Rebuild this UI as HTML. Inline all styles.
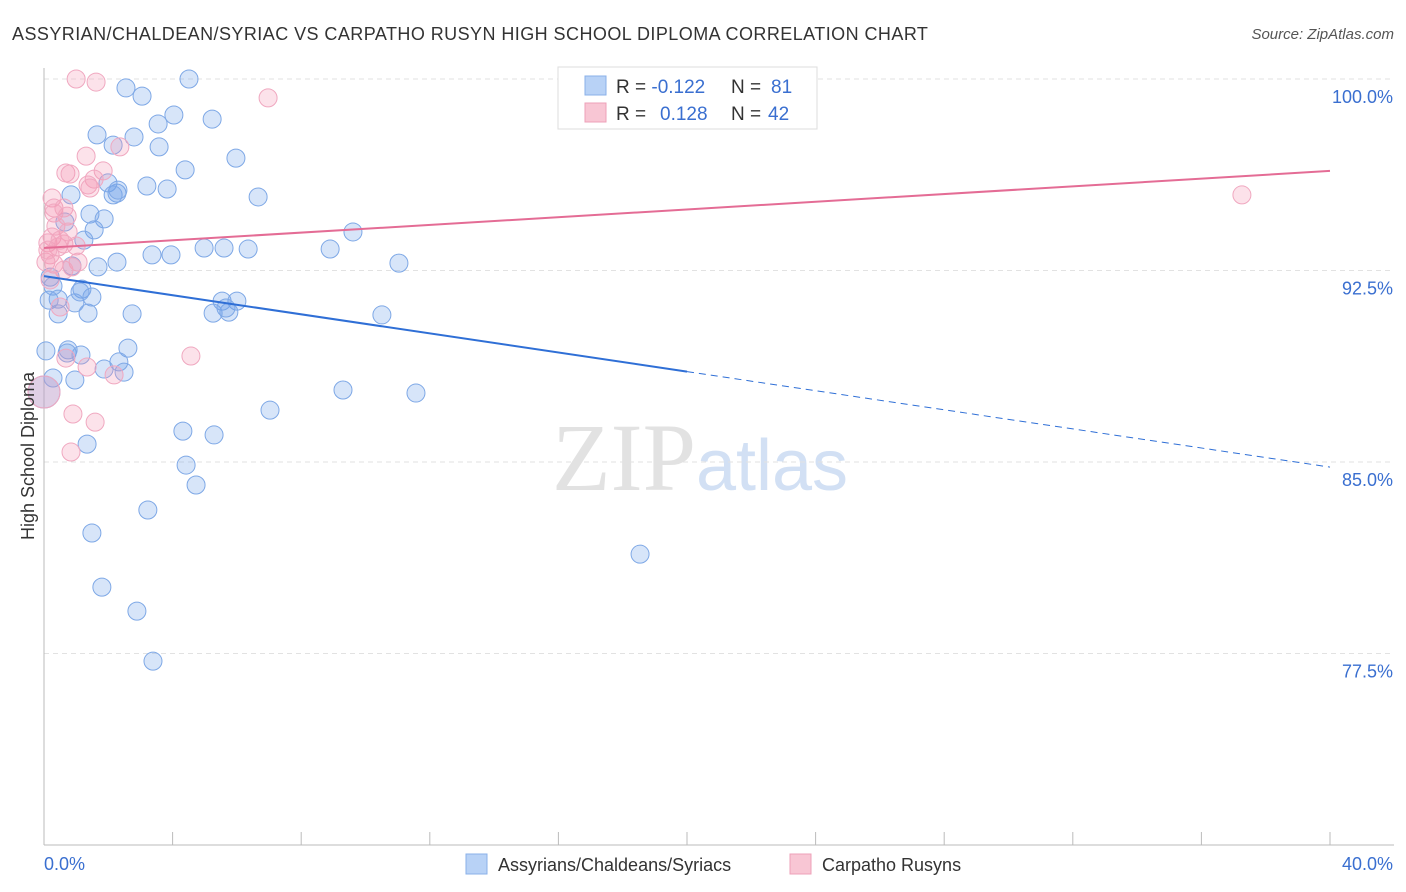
<!DOCTYPE html>
<html><head><meta charset="utf-8">
<style>
body{margin:0;background:#fff;font-family:"Liberation Sans",sans-serif;}
svg{display:block}
</style></head><body>
<svg id="chart" width="1406" height="892" xmlns="http://www.w3.org/2000/svg">
<text x="12" y="40" font-size="18" fill="#333" letter-spacing="0.44">ASSYRIAN/CHALDEAN/SYRIAC VS CARPATHO RUSYN HIGH SCHOOL DIPLOMA CORRELATION CHART</text>
<text x="1394" y="39" font-size="15" fill="#555" text-anchor="end" font-style="italic">Source: ZipAtlas.com</text>
<text x="700" y="490" font-size="96" text-anchor="middle" fill="#e2e2e2" font-family="Liberation Serif,serif">ZIP<tspan fill="#d2e0f4" font-family="Liberation Sans,sans-serif" font-size="72">atlas</tspan></text>
<g id="grid"></g>
<g id="axes"></g>
<g id="pts"></g>
<g id="trend"></g>
<text transform="translate(34,456) rotate(-90)" font-size="18" fill="#333" text-anchor="middle">High School Diploma</text>
<g>
<rect x="558" y="67" width="259" height="62" fill="#fff" stroke="#ddd"/>
<rect x="585" y="76" width="21" height="19" fill="#b8d2f6" stroke="#8ab0e8"/>
<rect x="585" y="103" width="21" height="19" fill="#f8c6d4" stroke="#eea0b8"/>
<text x="616" y="93" font-size="19" fill="#333">R = <tspan fill="#3a6fd0">-0.122</tspan><tspan x="731">N = </tspan><tspan fill="#3a6fd0" x="771">81</tspan></text>
<text x="616" y="120" font-size="19" fill="#333">R = <tspan fill="#3a6fd0" x="660">0.128</tspan><tspan x="731">N = </tspan><tspan fill="#3a6fd0" x="768">42</tspan></text>
</g>
<g>
<rect x="466" y="854" width="21" height="20" fill="#b8d2f6" stroke="#8ab0e8"/>
<text x="498" y="871" font-size="18" fill="#333">Assyrians/Chaldeans/Syriacs</text>
<rect x="790" y="854" width="21" height="20" fill="#f8c6d4" stroke="#eea0b8"/>
<text x="822" y="871" font-size="18" fill="#333">Carpatho Rusyns</text>
</g>
<text x="44" y="870" font-size="18" fill="#3a6fd0">0.0%</text>
<text x="1393" y="870" font-size="18" fill="#3a6fd0" text-anchor="end">40.0%</text>
</svg>
<script>
const yTicks=[100,92.5,85,77.5];
const yTickLabels=["100.0%","92.5%","85.0%","77.5%"];
const blueX=[2.55,3.05,4.51,4.04,5.23,3.55,1.65,2.80,2.15,3.58,5.97,4.39,1.99,3.20,3.83,0.84,2.27,2.15,6.66,1.43,1.87,0.65,1.56,1.24,9.61,4.98,5.60,6.35,8.90,3.36,3.95,2.27,1.68,0.87,11.04,0.19,0.28,1.18,1.49,0.44,0.96,5.54,6.00,0.44,1.37,2.74,5.26,5.75,5.66,10.51,0.06,0.75,1.15,2.61,2.33,1.87,2.49,0.28,0.96,0,9.30,11.57,7.03,4.32,5.29,1.34,4.42,4.73,3.23,1.49,18.54,1.80,2.89,3.39,0.72,1.12,0.16,2.30];
const blueY=[99.65,99.33,100.0,98.59,98.43,98.24,97.81,97.73,97.41,97.34,96.90,96.44,95.93,95.81,95.69,95.46,95.53,95.46,95.38,94.71,94.52,94.40,94.09,93.69,94.01,93.38,93.38,93.34,93.34,93.11,93.11,92.83,92.64,92.68,92.79,92.24,91.89,91.77,91.46,91.38,91.23,91.30,91.30,90.80,90.83,90.80,90.83,90.87,91.03,90.76,89.35,89.39,89.19,89.46,88.92,88.64,88.52,88.29,88.21,87.74,87.82,87.70,87.03,86.21,86.06,85.70,84.88,84.10,83.12,82.22,81.39,80.10,79.16,77.20,89.27,91.66,91.34,95.65];
const pinkX=[1.00,1.62,6.97,2.36,1.31,0.68,0.81,1.84,1.56,1.37,1.43,0.25,0.31,0.62,0.31,0.72,0.37,0.75,0.25,0.12,0.62,1.00,0.44,0.19,0.06,1.06,0.31,0.62,0.87,0.50,4.57,0.68,1.34,2.18,0,0.90,1.59,0.84,37.26,0.12,0.50,0.19];
const pinkY=[100,99.88,99.26,97.34,96.98,96.32,96.28,96.40,96.08,95.85,95.73,95.34,94.95,94.95,94.75,94.63,94.24,94.01,93.81,93.58,93.54,93.46,93.42,93.11,92.83,92.83,92.75,92.52,92.64,91.07,89.15,89.07,88.72,88.41,87.74,86.88,86.56,85.39,95.46,93.30,93.69,92.13];
const blueTrend=[92.28,84.80];
const pinkTrend=[93.38,96.40];
const NS="http://www.w3.org/2000/svg";
const X=v=>44+v/40*1286;
const Y=v=>845-(v-70)/30*766;
function mk(t,a,p){const e=document.createElementNS(NS,t);for(const k in a)e.setAttribute(k,a[k]);p.appendChild(e);return e;}
const grid=document.getElementById('grid'),axes=document.getElementById('axes'),pts=document.getElementById('pts'),tr=document.getElementById('trend');
yTicks.forEach((v,i)=>{
 const l=mk('line',{x1:44,x2:1394,y1:Y(v),y2:Y(v),stroke:'#e2e2e2','stroke-dasharray':'5,4'},grid);
 
 
 const t=mk('text',{x:1393,y:Y(v)+24,'font-size':18,fill:'#3a6fd0','text-anchor':'end'},grid);
 t.textContent=yTickLabels[i];
 
 
});
const ax=mk('line',{x1:44,x2:44,y1:68,y2:845,stroke:'#bbb'},axes);


const bx=mk('line',{x1:44,x2:1394,y1:845,y2:845,stroke:'#bbb'},axes);


for(let i=0;i<=10;i++){
 const t=mk('line',{x1:X(i*4),x2:X(i*4),y1:832,y2:845,stroke:'#bbb'},axes);
 
 
}
function dot(x,y,c,s,big){
 const e=mk('circle',{cx:X(x),cy:Y(y),r:big?16:9,fill:c,stroke:s,'stroke-width':1},pts);
 return e;
}
blueX.forEach((x,i)=>{const e=dot(x,blueY[i],'rgba(110,160,235,0.28)','#7ea8e6',x===0);
 
 });
pinkX.forEach((x,i)=>{const e=dot(x,pinkY[i],'rgba(245,150,180,0.28)','#f0a8c0',x===0);
 
 });
const bm=blueTrend[0]+(blueTrend[1]-blueTrend[0])*0.5;
const b1=mk('line',{x1:X(0),y1:Y(blueTrend[0]),x2:X(20),y2:Y(bm),stroke:'#2f6fd6','stroke-width':2},tr);


const b2=mk('line',{x1:X(20),y1:Y(bm),x2:X(40),y2:Y(blueTrend[1]),stroke:'#2f6fd6','stroke-width':1,'stroke-dasharray':'7,5'},tr);


const p1=mk('line',{x1:X(0),y1:Y(pinkTrend[0]),x2:X(40),y2:Y(pinkTrend[1]),stroke:'#e46c95','stroke-width':2},tr);


</script>
</body></html>
